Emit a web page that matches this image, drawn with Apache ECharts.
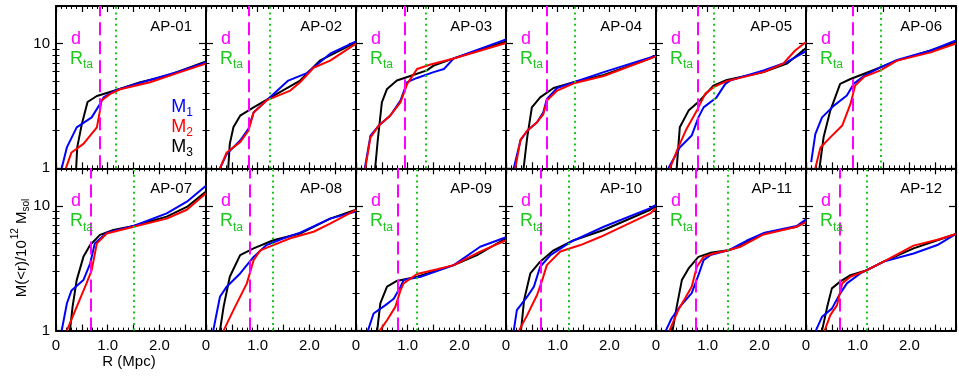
<!DOCTYPE html>
<html lang="en">
<head>
    <meta charset="UTF-8">
    <title>M(&lt;r) profiles AP-01 .. AP-12</title>
    <script src="https://cdn.jsdelivr.net/npm/echarts@6/dist/echarts.min.js"></script>
    <style>
        html, body { margin: 0; padding: 0; background: #fff; }
        #container { width: 959px; height: 377px; }
    </style>
</head>
<body>
<div id="container"></div>
<script type="text/javascript">
    let panelNames = ['AP-01','AP-02','AP-03','AP-04','AP-05','AP-06','AP-07','AP-08','AP-09','AP-10','AP-11','AP-12'];

    // M1 (blue), [R in Mpc, M/1e12 Msol]
    let m1 = [
        [[0.11,1],[0.21,1.47],[0.4,2.13],[0.69,2.56],[0.85,3.28],[0.92,3.7],[1.14,4.2],[1.63,4.85],[2.4,6.0],[2.9,7.1]],
        [[0.27,1],[0.4,1.3],[0.66,1.67],[0.82,2.07],[0.92,2.8],[1.17,3.5],[1.59,5.05],[1.95,5.8],[2.4,8.3],[2.9,10.4]],
        [[0.17,1],[0.28,1.83],[0.44,2.2],[0.66,2.64],[0.86,3.49],[0.99,4.9],[1.18,5.3],[1.5,5.9],[1.7,6.25],[1.89,7.6],[2.9,10.8]],
        [[0.15,1],[0.28,1.67],[0.41,2.0],[0.6,2.34],[0.72,2.8],[0.79,3.6],[0.99,4.4],[1.31,4.9],[1.89,5.9],[2.9,8.0]],
        [[0.24,1],[0.46,1.47],[0.69,1.83],[0.82,2.56],[0.92,3.08],[1.17,3.7],[1.34,4.75],[1.43,5.05],[2.08,6.1],[2.53,7.1],[2.9,8.7]],
        [[0.1,1.12],[0.18,1.88],[0.31,2.56],[0.54,3.18],[0.79,3.83],[0.92,4.75],[1.12,5.5],[1.44,6.45],[1.76,7.4],[2.41,8.8],[2.9,10.6]],
        [[0.11,1],[0.21,1.65],[0.3,2.1],[0.53,2.54],[0.66,3.45],[0.75,5.0],[0.98,6.1],[1.5,6.9],[2.14,8.7],[2.53,10.8],[2.9,14.5]],
        [[0.14,1],[0.27,1.87],[0.4,2.25],[0.66,2.87],[0.92,3.9],[1.17,4.85],[1.5,5.5],[1.82,6.1],[2.4,7.9],[2.9,9.0]],
        [[0.23,1],[0.34,1.37],[0.57,1.6],[0.73,1.8],[0.86,2.25],[0.92,2.54],[1.25,2.7],[1.89,3.35],[2.4,4.7],[2.9,5.6]],
        [[0.15,1],[0.21,1.46],[0.41,1.87],[0.54,2.25],[0.66,3.25],[0.86,4.03],[1.25,5.15],[1.89,6.8],[2.79,9.6],[2.9,10.2]],
        [[0.19,1],[0.3,1.25],[0.46,1.55],[0.69,2.0],[0.82,2.78],[0.92,3.67],[1.05,4.03],[1.4,4.4],[1.75,5.25],[2.08,6.05],[2.72,6.9],[2.9,7.8]],
        [[0.19,1],[0.31,1.29],[0.5,1.5],[0.66,1.98],[0.79,2.39],[1.05,2.87],[1.5,3.57],[2.08,4.15],[2.54,4.85],[2.9,5.95]]
    ];
    // M2 (red)
    let m2 = [
        [[0.19,1],[0.3,1.34],[0.53,1.57],[0.79,2.13],[0.85,2.9],[0.88,3.5],[1.05,3.95],[1.24,4.3],[1.82,4.9],[2.4,5.9],[2.9,6.9]],
        [[0.27,1],[0.4,1.34],[0.66,1.62],[0.82,2.0],[0.92,2.8],[1.17,3.5],[1.63,4.2],[1.82,4.9],[2.08,6.4],[2.4,7.3],[2.9,10.0]],
        [[0.18,1],[0.28,1.77],[0.44,2.2],[0.66,2.64],[0.86,3.38],[0.99,4.75],[1.18,6.25],[1.44,6.8],[1.89,7.6],[2.9,10.1]],
        [[0.18,1],[0.28,1.7],[0.41,2.0],[0.6,2.34],[0.72,2.7],[0.79,3.5],[0.99,4.2],[1.31,4.8],[1.89,5.5],[2.9,7.9]],
        [[0.27,1],[0.43,1.47],[0.59,2.07],[0.79,2.9],[0.95,3.95],[1.11,4.47],[1.37,5.0],[2.08,5.9],[2.46,6.9],[2.69,8.8],[2.9,10.3]],
        [[0.18,1],[0.28,1.47],[0.47,1.77],[0.7,2.2],[0.86,3.28],[0.95,4.6],[1.12,5.4],[1.44,6.1],[1.76,7.3],[2.41,8.5],[2.9,10.0]],
        [[0.21,1],[0.4,1.55],[0.59,2.39],[0.69,3.05],[0.79,5.0],[0.98,6.0],[1.5,6.8],[2.14,7.9],[2.53,9.3],[2.9,12.6]],
        [[0.34,1],[0.53,1.46],[0.79,2.39],[0.92,3.67],[1.05,4.4],[1.3,4.85],[1.63,5.5],[2.08,6.2],[2.4,7.2],[2.9,9.3]],
        [[0.46,1],[0.6,1.21],[0.76,1.55],[0.86,2.1],[0.92,2.39],[1.18,2.84],[1.57,3.1],[1.89,3.35],[2.4,4.3],[2.9,5.3]],
        [[0.25,1],[0.41,1.33],[0.6,1.93],[0.7,2.54],[0.79,3.35],[1.05,4.3],[1.44,4.85],[1.83,5.65],[2.79,8.7],[2.9,9.6]],
        [[0.26,1],[0.43,1.46],[0.56,1.81],[0.69,2.25],[0.79,3.25],[0.92,3.9],[1.11,4.15],[1.4,4.4],[1.63,4.7],[1.81,5.15],[2.08,5.9],[2.72,6.8],[2.9,7.4]],
        [[0.36,1],[0.47,1.33],[0.6,1.6],[0.7,2.39],[0.86,2.7],[1.18,3.05],[1.5,3.57],[2.08,4.8],[2.54,5.35],[2.9,5.95]]
    ];
    // M3 (black)
    let m3 = [
        [[0.39,1],[0.41,1.47],[0.5,2.27],[0.61,3.4],[0.79,3.8],[1.14,4.2],[1.63,4.9],[2.14,5.5],[2.9,7.2]],
        [[0.43,1],[0.46,1.57],[0.53,2.13],[0.66,2.64],[0.92,3.08],[1.37,3.95],[1.82,5.05],[2.2,7.3],[2.9,10.2]],
        [[0.37,1],[0.42,1.67],[0.5,3.38],[0.6,4.33],[0.79,5.05],[1.05,5.5],[1.37,6.1],[1.5,6.65],[1.89,7.6],[2.9,10.4]],
        [[0.34,1],[0.41,1.77],[0.5,3.08],[0.66,3.7],[0.92,4.4],[1.31,4.9],[1.89,5.6],[2.79,7.6],[2.9,8.0]],
        [[0.4,1],[0.46,2.13],[0.63,2.9],[0.85,3.5],[1.11,4.6],[1.37,5.1],[2.08,5.9],[2.53,6.9],[2.9,9.2]],
        [[0.26,1],[0.34,1.77],[0.47,2.9],[0.66,4.75],[0.86,5.2],[1.25,6.0],[1.76,7.3],[2.41,8.8],[2.9,10.2]],
        [[0.27,1],[0.32,1.55],[0.4,2.54],[0.53,3.9],[0.66,4.85],[0.85,5.85],[1.11,6.4],[1.5,6.9],[2.14,8.2],[2.53,9.8],[2.9,13]],
        [[0.27,1],[0.34,1.55],[0.46,2.7],[0.66,4.03],[0.92,4.56],[1.3,5.3],[1.82,6.0],[2.4,7.9],[2.9,9.3]],
        [[0.41,1],[0.47,1.65],[0.6,2.25],[0.79,2.5],[1.18,2.7],[1.89,3.35],[2.34,4.03],[2.9,5.5]],
        [[0.29,1],[0.35,1.76],[0.47,2.87],[0.66,3.57],[0.92,4.4],[1.31,5.3],[1.89,6.4],[2.79,9.3],[2.9,10.0]],
        [[0.32,1],[0.4,1.55],[0.5,2.54],[0.63,3.15],[0.82,3.9],[1.05,4.2],[1.4,4.4],[1.63,4.75],[1.75,5.15],[2.08,6.0],[2.72,6.8],[2.9,7.6]],
        [[0.31,1],[0.41,1.55],[0.5,2.18],[0.66,2.47],[0.86,2.78],[1.18,3.05],[1.5,3.57],[2.08,4.56],[2.54,5.3],[2.9,5.95]]
    ];
    let dLine   = [0.85,0.82,0.94,0.78,0.81,0.91,0.67,0.84,0.81,0.68,0.77,0.66];
    let rtaLine = [1.15,1.23,1.34,1.33,1.11,1.44,1.50,1.29,1.18,1.21,1.39,1.18];

    let xLabelValues = [0, 1, 2];
    let xTickLabels = ['0', '1.0', '2.0'];
    let yLabelValues = [1, 10];
    let yTickLabels = ['1', '10'];
    let yMinorValues = [2, 3, 4, 5, 6, 7, 8, 9];

    let font = 'Liberation Sans';
    let blue = '#0000ff', red = '#ff0000', magenta = '#ff00ff', green = '#1ec81e';
    let left0 = 56, top0 = 6, panelW = 150, panelH = 162.3;

    let xFmt = function (v) {
        let i = xLabelValues.indexOf(Math.round(v * 100) / 100);
        return i < 0 ? '' : xTickLabels[i];
    };
    let yFmt = function (v) {
        let i = yLabelValues.indexOf(Math.round(v * 1000) / 1000);
        return i < 0 ? '' : yTickLabels[i];
    };

    let grids = [], xAxes = [], yAxes = [], series = [], graphics = [];

    for (let i = 0; i < 12; i++) {
        let col = i % 6, row = Math.floor(i / 6);
        let gl = left0 + col * panelW, gt = top0 + row * panelH;
        grids.push({left: gl, top: gt, width: panelW, height: panelH, containLabel: false, outerBoundsMode: 'none'});

        ['bottom', 'top'].forEach(function (pos) {
            xAxes.push({
                gridIndex: i, type: 'value', position: pos, min: 0, max: 2.9, interval: 0.5,
                axisLine: {show: true, onZero: false, lineStyle: {color: '#000', width: 2}},
                axisTick: {inside: true, length: 6, lineStyle: {color: '#000', width: 1.2}},
                minorTick: {show: true, splitNumber: 5, length: 3, lineStyle: {color: '#000', width: 1}},
                axisLabel: {show: pos === 'bottom' && row === 1, margin: 8, color: '#000',
                    fontSize: 15, fontFamily: font, formatter: xFmt},
                splitLine: {show: false}
            });
        });
        ['left', 'right'].forEach(function (pos) {
            yAxes.push({
                gridIndex: i, type: 'log', logBase: 10, position: pos, min: 1, max: 20,
                axisLine: {show: true, onZero: false, lineStyle: {color: '#000', width: 2}},
                axisTick: {inside: true, length: 7, lineStyle: {color: '#000', width: 1.2}},
                axisLabel: {show: pos === 'left' && col === 0, margin: 6, color: '#000',
                    fontSize: 15, fontFamily: font, formatter: yFmt},
                splitLine: {show: false}
            });
        });
        // minor log ticks (2..9) drawn from a tick-only axis in log10 units
        ['left', 'right'].forEach(function (pos) {
            yAxes.push({
                gridIndex: i, type: 'value', position: pos, min: 0, max: Math.log10(20),
                axisLine: {show: false},
                axisTick: {show: true, inside: true, length: 3.5, lineStyle: {color: '#000', width: 1},
                    customValues: yMinorValues.map(function (v) { return Math.log10(v); })},
                axisLabel: {show: false},
                splitLine: {show: false}
            });
        });

        let base = {type: 'line', xAxisIndex: 2 * i, yAxisIndex: 4 * i, showSymbol: false, symbol: 'none',
            animation: false, emphasis: {disabled: true}, clip: true};
        series.push(Object.assign({}, base, {name: 'M3', data: m3[i], lineStyle: {color: '#000', width: 2}}));
        series.push(Object.assign({}, base, {name: 'M1', data: m1[i], lineStyle: {color: blue, width: 2}}));
        series.push(Object.assign({}, base, {name: 'M2', data: m2[i], lineStyle: {color: red, width: 2},
            markLine: {
                symbol: ['none', 'none'], silent: true, animation: false, label: {show: false},
                emphasis: {disabled: true},
                data: [
                    {xAxis: dLine[i], lineStyle: {color: magenta, type: [13, 6], width: 2}},
                    {xAxis: rtaLine[i], lineStyle: {color: green, type: [2, 3.7], width: 2}}
                ]
            }}));

        graphics.push({type: 'text', x: gl + 136, y: gt + 21, z: 10,
            style: {text: panelNames[i], fill: '#000', fontSize: 15, fontFamily: font, align: 'right', verticalAlign: 'middle'}});
        graphics.push({type: 'text', x: gl + 15, y: gt + 33, z: 10,
            style: {text: 'd', fill: magenta, fontSize: 18, fontFamily: font, align: 'left', verticalAlign: 'middle'}});
        graphics.push({type: 'text', x: gl + 14, y: gt + 44, z: 10,
            style: {text: '{a|R}{b|ta}', align: 'left', verticalAlign: 'top',
                rich: {
                    a: {fontSize: 18, fontFamily: font, fill: green, lineHeight: 18, verticalAlign: 'top'},
                    b: {fontSize: 12, fontFamily: font, fill: green, lineHeight: 12, verticalAlign: 'top', padding: [9, 0, 0, 0]}
                }}});
    }

    // legend text inside AP-01
    [['M', '1', blue, 98], ['M', '2', red, 118], ['M', '3', '#000', 138]].forEach(function (t) {
        graphics.push({type: 'text', x: left0 + 137, y: t[3], z: 10,
            style: {text: '{a|' + t[0] + '}{b|' + t[1] + '}', align: 'right', verticalAlign: 'top',
                rich: {
                    a: {fontSize: 18, fontFamily: font, fill: t[2], lineHeight: 18, verticalAlign: 'top'},
                    b: {fontSize: 12, fontFamily: font, fill: t[2], lineHeight: 12, verticalAlign: 'top', padding: [9, 0, 0, 0]}
                }}});
    });

    // axis titles
    graphics.push({type: 'text', x: 129, y: 362, z: 10,
        style: {text: 'R (Mpc)', fill: '#000', fontSize: 15, fontFamily: font, align: 'center', verticalAlign: 'middle'}});
    graphics.push({type: 'text', x: 18, y: 248, rotation: Math.PI / 2, z: 10,
        style: {text: '{a|M(<r)/10}{p|12}{a| M}{s|sol}', align: 'center', verticalAlign: 'middle',
            rich: {
                a: {fontSize: 15, fontFamily: font, fill: '#000', lineHeight: 15, verticalAlign: 'top', padding: [4, 0, 0, 0]},
                p: {fontSize: 10, fontFamily: font, fill: '#000', lineHeight: 10, verticalAlign: 'top', padding: [0, 0, 0, 1]},
                s: {fontSize: 10, fontFamily: font, fill: '#000', lineHeight: 10, verticalAlign: 'top', padding: [11, 0, 0, 0]}
            }}});

    let dom = document.getElementById('container');
    let myChart = echarts.init(dom);
    myChart.setOption({
        animation: false,
        backgroundColor: '#fff',
        grid: grids,
        xAxis: xAxes,
        yAxis: yAxes,
        series: series,
        graphic: graphics
    });
</script>
</body>
</html>
